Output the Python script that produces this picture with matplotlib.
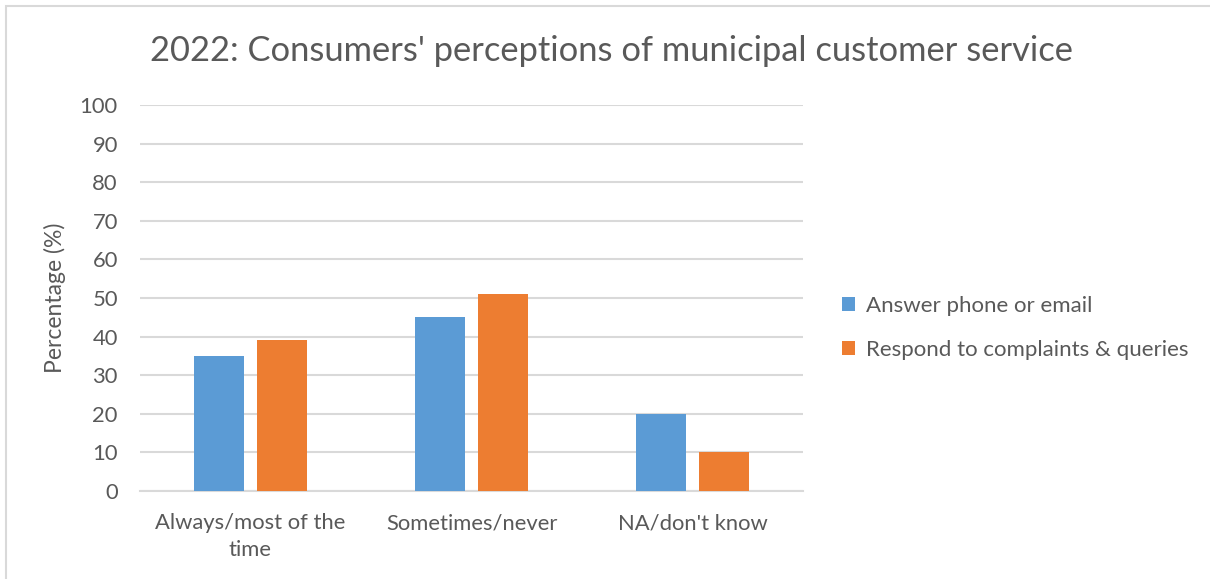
import numpy as np
import matplotlib.pyplot as plt
from matplotlib.patches import Rectangle

categories = ["Always/most of the\ntime", "Sometimes/never", "NA/don't know"]
answer_phone = [35, 45, 20]
respond_complaints = [39, 51, 10]
series_names = ["Answer phone or email", "Respond to complaints & queries"]
yticks = list(range(0, 101, 10))

BLUE = "#5b9bd5"
ORANGE = "#ed7d31"
TEXT = "#595959"
GRID = "#d9d9d9"

plt.rcParams["font.family"] = ["Lato", "DejaVu Sans"]

fig = plt.figure(figsize=(12.1, 5.79), dpi=100)
ax = fig.add_axes([140 / 1210, 1 - 491 / 579, 663 / 1210, 386 / 579])

x = np.arange(len(categories))
off = 0.1425
w = 0.222
b1 = ax.bar(x - off, answer_phone, w, color=BLUE, label=series_names[0], zorder=3)
b2 = ax.bar(x + off, respond_complaints, w, color=ORANGE, label=series_names[1], zorder=3)

ax.set_xlim(-0.5, 2.5)
ax.set_ylim(0, 100)
ax.set_yticks(yticks)
ax.yaxis.grid(True, color=GRID, linewidth=1.5, zorder=0)
ax.set_axisbelow(True)
for s in ["top", "right", "left"]:
    ax.spines[s].set_visible(False)
ax.spines["bottom"].set_color(GRID)
ax.spines["bottom"].set_linewidth(1.5)
ax.tick_params(length=0, colors=TEXT, labelsize=15.8)
ax.tick_params(axis="y", pad=16)
ax.tick_params(axis="x", pad=16)
ax.set_xticks(x)
ax.set_xticklabels(categories, linespacing=1.45)
ax.set_ylabel("Percentage (%)", fontsize=16.5, color=TEXT, labelpad=10)

fig.text(611 / 1210, 1 - 51 / 579, "2022: Consumers' perceptions of municipal customer service",
         ha="center", va="center", fontsize=24.8, color=TEXT)

leg = fig.legend(handles=[b1, b2], loc="center left", bbox_to_anchor=(822 / 1210, 1 - 328 / 579),
                 frameon=False, fontsize=16, labelcolor=TEXT, handlelength=0.6,
                 handleheight=0.6, handletextpad=0.5, labelspacing=1.1)

# chart area border
fig.patches.append(Rectangle((6 / 1210, -0.1), 1.2, 1 - 6 / 579 + 0.1, transform=fig.transFigure,
                             fill=False, edgecolor="#d9d9d9", linewidth=1.5))

fig.savefig("out.png", dpi=100)
